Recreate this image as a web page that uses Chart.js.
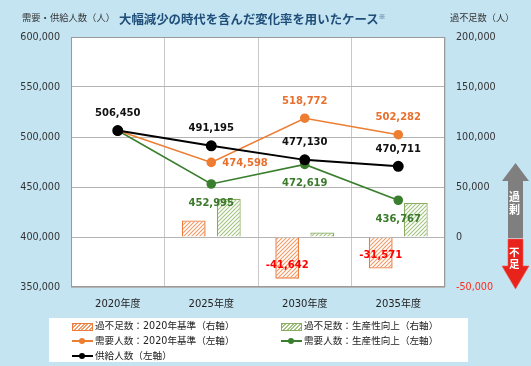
<!DOCTYPE html>
<html>
<head>
<meta charset="utf-8">
<script src="https://cdn.jsdelivr.net/npm/chart.js@4.4.1/dist/chart.umd.min.js"></script>
<style>
  html,body{margin:0;padding:0;}
  body{width:531px;height:366px;background:#c5e4f2;overflow:hidden;font-family:"DejaVu Sans","Noto Sans CJK JP",sans-serif;}
  #wrap{position:relative;width:531px;height:366px;}
  canvas{position:absolute;left:0;top:0;}
  .t{position:absolute;white-space:nowrap;color:#333;}
  #legend{position:absolute;left:49px;top:318px;width:419px;height:44px;background:#fff;}
  .li{position:absolute;height:14px;font-size:9.6px;line-height:14px;color:#222;font-family:"DejaVu Sans","Noto Sans CJK JP",sans-serif;white-space:nowrap;}
  .sw{position:absolute;left:0;top:3.5px;width:19px;height:6px;}
  .ln{position:absolute;left:0;top:6px;width:21px;height:2px;}
  .dot{position:absolute;left:7px;top:4px;width:6px;height:6px;border-radius:50%;}
  .lt{position:absolute;left:23px;top:0;}
</style>
</head>
<body>
<div id="wrap">
  <canvas id="c" width="531" height="366"></canvas>
  <div class="t" style="left:22px;top:10px;font-size:9.3px;line-height:14px;font-family:'Noto Sans CJK JP';">需要・供給人数（人）</div>
  <div class="t" style="left:119px;top:8px;font-size:12.4px;line-height:17px;font-weight:bold;color:#1f4e79;font-family:'Noto Sans CJK JP';">大幅減少の時代を含んだ変化率を用いたケース<span style="font-size:7px;vertical-align:5px;font-weight:normal;">※</span></div>
  <div class="t" style="left:450px;top:10px;font-size:9.2px;line-height:14px;font-family:'Noto Sans CJK JP';">過不足数（人）</div>
  <svg style="position:absolute;left:0;top:0;" width="531" height="366">
    <polygon points="515.5,163 529,181 523,181 523,238 508,238 508,181 502,181" fill="#7f7f7f"/>
    <polygon points="508,239 523,239 523,266 529,266 515.5,289 502,266 508,266" fill="#e8231c" stroke="#f05a50" stroke-width="0.6"/>
  </svg>
  <div class="t" style="left:509px;top:190px;width:13px;font-size:11px;line-height:13px;font-weight:bold;color:#fff;font-family:'Noto Sans CJK JP';white-space:normal;">過剰</div>
  <div class="t" style="left:509px;top:246px;width:13px;font-size:10.5px;line-height:12px;font-weight:bold;color:#fff;font-family:'Noto Sans CJK JP';white-space:normal;">不足</div>
  <div id="legend"></div>
</div>
<script>
// ---- data ----
const categories = ['2020年度', '2025年度', '2030年度', '2035年度'];
const supply      = [506450, 491195, 477130, 470711];
const demandBase  = [506450, 474598, 518772, 502282];
const demandProd  = [506450, 452995, 472619, 436767];
const gapBase     = [null, 16597, -41642, -31571];
const gapProd     = [null, 38196, 4511, 33944];
const seriesNames = [
  '過不足数：2020年基準（右軸）',
  '過不足数：生産性向上（右軸）',
  '需要人数：2020年基準（左軸）',
  '需要人数：生産性向上（左軸）',
  '供給人数（左軸）'
];
const leftTicks  = [350000, 400000, 450000, 500000, 550000, 600000];
const rightTicks = [-50000, 0, 50000, 100000, 150000, 200000];

// ---- styles ----
const ORANGE = '#ed7d31', GREEN = '#3a7f2e', BLACK = '#000000';
const ORANGE_BAR = '#ec7b3e', ORANGE_HATCH = '#f29a66';
const GREEN_BAR = '#88ab60', GREEN_HATCH = '#a2c47f';

function hatch(lineColor, bg) {
  const s = 4, c = document.createElement('canvas');
  c.width = s; c.height = s;
  const x = c.getContext('2d');
  x.fillStyle = bg; x.fillRect(0, 0, s, s);
  x.strokeStyle = lineColor; x.lineWidth = 1.1;
  x.beginPath();
  x.moveTo(-1, s + 1); x.lineTo(s + 1, -1);
  x.moveTo(-1, 1); x.lineTo(1, -1);
  x.moveTo(s - 1, s + 1); x.lineTo(s + 1, s - 1);
  x.stroke();
  return document.getElementById('c').getContext('2d').createPattern(c, 'repeat');
}

const fmt = v => v.toLocaleString('en-US');

const labelPlugin = {
  id: 'labels',
  afterDatasetsDraw(chart) {
    const ctx = chart.ctx;
    chart.data.datasets.forEach((ds, di) => {
      const lab = ds.labelCfg;
      if (!lab) return;
      const meta = chart.getDatasetMeta(di);
      meta.data.forEach((el, i) => {
        const v = ds.data[i];
        if (v === null || !lab.show(v, i)) return;
        const pos = lab.pos[i];
        ctx.save();
        ctx.font = 'bold 10px "DejaVu Sans"';
        ctx.fillStyle = lab.color;
        ctx.textBaseline = 'middle';
        let x = el.x, y = el.y;
        if (pos === 'above') { ctx.textAlign = 'center'; y -= 17; }
        else if (pos === 'below') { ctx.textAlign = 'center'; y += 19; }
        else if (pos === 'right') { ctx.textAlign = 'left'; x += 11; y += 1; }
        else if (pos === 'barEnd') { ctx.textAlign = 'center'; y -= 13; }
        ctx.fillText(fmt(v), x, y);
        ctx.restore();
      });
    });
  }
};

const areaPlugin = {
  id: 'area',
  beforeDraw(chart) {
    const a = chart.chartArea, ctx = chart.ctx;
    ctx.save();
    ctx.fillStyle = '#ffffff';
    ctx.fillRect(a.left, a.top, a.right - a.left, a.bottom - a.top);
    ctx.restore();
  },
  beforeDatasetsDraw(chart) {
    const a = chart.chartArea, ctx = chart.ctx;
    ctx.save();
    ctx.strokeStyle = '#9a9a9a';
    ctx.lineWidth = 1;
    ctx.strokeRect(Math.round(a.left) + 0.5, Math.round(a.top) + 0.5, Math.round(a.right - a.left) - 1, Math.round(a.bottom - a.top) - 1);
    ctx.restore();
  }
};

const chart = new Chart(document.getElementById('c'), {
  type: 'bar',
  data: {
    labels: categories,
    datasets: [
      {
        type: 'line', label: seriesNames[4], data: supply, yAxisID: 'y', order: 0,
        borderColor: BLACK, backgroundColor: BLACK, borderWidth: 2, pointRadius: 4.5, pointHoverRadius: 4.5,
        labelCfg: { color: '#111', pos: ['above', 'above', 'above', 'above'], show: () => true }
      },
      {
        type: 'line', label: seriesNames[2], data: demandBase, yAxisID: 'y', order: 1,
        borderColor: ORANGE, backgroundColor: ORANGE, borderWidth: 1.6, pointRadius: 4, pointHoverRadius: 4,
        labelCfg: { color: '#e8702f', pos: ['above', 'right', 'above', 'above'], show: (v, i) => i > 0 }
      },
      {
        type: 'line', label: seriesNames[3], data: demandProd, yAxisID: 'y', order: 1,
        borderColor: GREEN, backgroundColor: GREEN, borderWidth: 1.6, pointRadius: 4, pointHoverRadius: 4,
        labelCfg: { color: '#3b7a2b', pos: ['below', 'below', 'below', 'below'], show: (v, i) => i > 0 }
      },
      {
        type: 'bar', label: seriesNames[0], data: gapBase, yAxisID: 'y2', order: 2,
        backgroundColor: hatch(ORANGE_HATCH, '#ffffff'), borderColor: ORANGE_BAR, borderWidth: 1.4,
        categoryPercentage: 0.75, barPercentage: 0.68,
        labelCfg: { color: '#ff0000', pos: ['barEnd', 'barEnd', 'barEnd', 'barEnd'], show: v => v < 0 }
      },
      {
        type: 'bar', label: seriesNames[1], data: gapProd, yAxisID: 'y2', order: 2,
        backgroundColor: hatch(GREEN_HATCH, '#ffffff'), borderColor: GREEN_BAR, borderWidth: 1.2,
        categoryPercentage: 0.75, barPercentage: 0.68
      }
    ]
  },
  options: {
    responsive: false,
    animation: false,
    events: [],
    layout: { padding: { top: 37, left: 0, right: 0, bottom: 0 } },
    plugins: { legend: { display: false }, title: { display: false }, tooltip: { enabled: false } },
    scales: {
      x: {
        offset: true,
        grid: { offset: true, color: '#c8c8c8', lineWidth: 1, drawTicks: false },
        border: { display: false },
        ticks: { padding: 11, color: '#222', font: { family: '"DejaVu Sans","Noto Sans CJK JP"', size: 10 } },
        afterFit(s) { s.height = 79; }
      },
      y: {
        position: 'left', min: leftTicks[0], max: leftTicks[leftTicks.length - 1],
        afterBuildTicks(s) { s.ticks = leftTicks.map(v => ({ value: v })); },
        grid: { color: '#b4b4b4', lineWidth: 1, drawTicks: false },
        border: { display: false },
        ticks: { padding: 11, color: '#333', font: { family: '"DejaVu Sans"', size: 9.6 }, callback: v => fmt(v) },
        afterFit(s) { s.width = 71; }
      },
      y2: {
        position: 'right', min: rightTicks[0], max: rightTicks[rightTicks.length - 1],
        afterBuildTicks(s) { s.ticks = rightTicks.map(v => ({ value: v })); },
        grid: { drawOnChartArea: false, drawTicks: false },
        border: { display: false },
        ticks: {
          padding: 11, font: { family: '"DejaVu Sans"', size: 9.6 }, callback: v => fmt(v),
          color: c => (c.tick && c.tick.value < 0) ? '#ff2a1a' : '#333'
        },
        afterFit(s) { s.width = 86; }
      }
    }
  },
  plugins: [areaPlugin, labelPlugin]
});

// ---- HTML legend ----
const legend = document.getElementById('legend');
const items = [
  { name: seriesNames[0], kind: 'bar', c: ORANGE_BAR, h: ORANGE_HATCH, x: 23, y: 1 },
  { name: seriesNames[1], kind: 'bar', c: GREEN_BAR, h: GREEN_HATCH, x: 232, y: 1 },
  { name: seriesNames[2], kind: 'line', c: ORANGE, x: 23, y: 16 },
  { name: seriesNames[3], kind: 'line', c: GREEN, x: 232, y: 16 },
  { name: seriesNames[4], kind: 'line', c: BLACK, x: 23, y: 31 }
];
items.forEach(it => {
  const d = document.createElement('div');
  d.className = 'li';
  d.style.left = it.x + 'px';
  d.style.top = it.y + 'px';
  let mark;
  if (it.kind === 'bar') {
    mark = `<div class="sw" style="border:1px solid ${it.c};background:repeating-linear-gradient(-45deg,#fff 0 1.2px,${it.h} 1.2px 2.6px);"></div>`;
  } else {
    mark = `<div class="ln" style="background:${it.c};"></div><div class="dot" style="background:${it.c};"></div>`;
  }
  d.innerHTML = mark + `<span class="lt">${it.name}</span>`;
  legend.appendChild(d);
});
</script>
</body>
</html>
